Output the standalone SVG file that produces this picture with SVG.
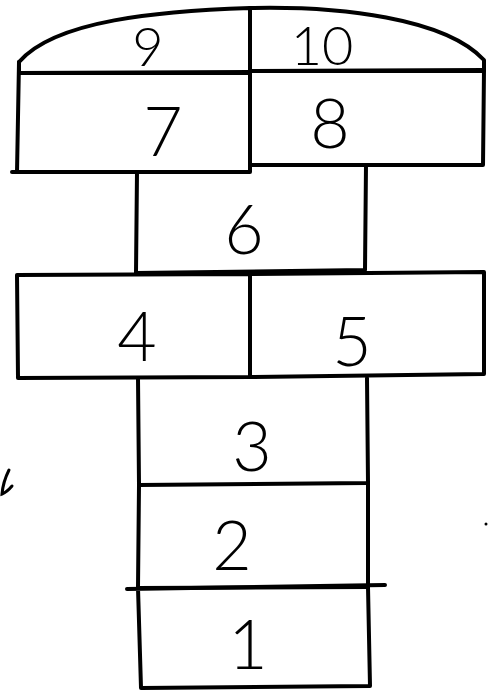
<svg xmlns="http://www.w3.org/2000/svg" width="495" height="695" viewBox="0 0 495 695">
<style>
.ln{fill:none;stroke:#000;stroke-width:4;stroke-linecap:round;stroke-linejoin:round}
.num{font-family:Lato,"Open Sans","Liberation Sans",sans-serif;font-weight:300;font-size:68px;fill:#000;text-anchor:middle}
.sm{font-size:54px}
</style>
<rect width="495" height="695" fill="#fff"/>
<g id="cell-9">
<path class="ln" d="M19,73 L19,62 C55,20 160,11 250,8 L250,73 Z"/>
<text class="num sm" x="148" y="66">9</text>
</g>
<g id="cell-10">
<path class="ln" d="M250,8 C340,6 445,18 484,60 L484,71 L250,71"/>
<text class="num sm" x="322" y="65">10</text>
</g>
<g id="cell-7">
<path class="ln" d="M19,62 L17,172 M12,172 L250,172 L250,72 L19,73"/>
<text class="num" x="163" y="156">7</text>
</g>
<g id="cell-8">
<path class="ln" d="M250,71 L484,70 L483,165 L250,165"/>
<text class="num" x="330" y="148">8</text>
</g>
<g id="cell-6">
<path class="ln" d="M137,172 L136,273 L365,270 L366,165"/>
<text class="num" x="244" y="254">6</text>
</g>
<g id="cell-4">
<path class="ln" d="M17,275 L250,274 L250,377 L18,378 Z"/>
<text class="num" x="137" y="361">4</text>
</g>
<g id="cell-5">
<path class="ln" d="M250,274 L484,272 L484,374 L250,377"/>
<text class="num" x="352" y="366">5</text>
</g>
<g id="cell-3">
<path class="ln" d="M138,378 L139,485 L368,483 L367,378"/>
<text class="num" x="252" y="471">3</text>
</g>
<g id="cell-2">
<path class="ln" d="M139,485 L138,588 L368,587 L368,483"/>
<text class="num" x="232" y="570">2</text>
</g>
<g id="cell-1">
<path class="ln" d="M127,589 L385,585 M138,588 L141,688 L370,686 L368,587"/>
<text class="num" x="248" y="669">1</text>
</g>
<g id="marks">
<path d="M9,470 Q3,482 2,494 Q7,492 12,486" fill="none" stroke="#000" stroke-width="3" stroke-linecap="round"/>
<circle cx="486" cy="524" r="1.5" fill="#000"/>
</g>
</svg>
